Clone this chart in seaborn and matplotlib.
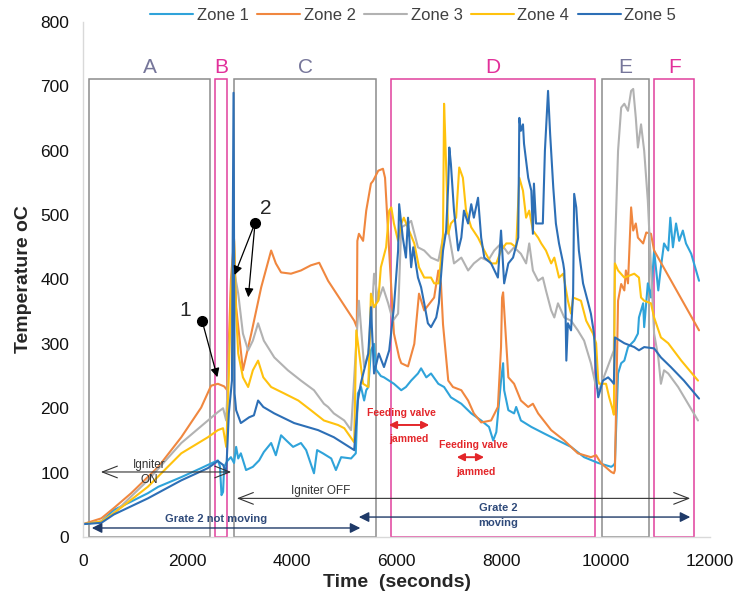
import pandas as pd
import seaborn as sns
import matplotlib.pyplot as plt
from matplotlib.patches import Rectangle

# Theme
sns.set_theme(style="white")
plt.rcParams['font.family'] = ['Liberation Sans', 'DejaVu Sans']

# ------------------ DATA ------------------
zone_names = ['Zone 1', 'Zone 2', 'Zone 3', 'Zone 4', 'Zone 5']
zone_colors = ['#2fa3da', '#f0873f', '#b2b2b2', '#ffc20e', '#2d6fb6']

t1 = [0, 350, 590, 920, 1240, 1440, 1880, 2260, 2390, 2580, 2620, 2650, 2680, 2700, 2760,
      2830, 2890, 2930, 2970, 3020, 3120, 3250, 3370, 3460, 3600, 3690, 3790, 3890, 4020, 4170,
      4270, 4420, 4480, 4590, 4750, 4840, 4940, 5130, 5220, 5260, 5320, 5380, 5420, 5460, 5510,
      5570, 5610, 5700, 5760, 5950, 6090, 6180, 6280, 6410, 6470, 6570, 6660, 6800, 6910, 7040,
      7240, 7430, 7620, 7770, 7850, 7910, 8000, 8040, 8060, 8140, 8250, 8290, 8380, 8580, 8820,
      9090, 9340, 9590, 9860, 10110, 10160, 10180, 10240, 10300, 10360, 10430, 10550, 10620, 10640, 10720,
      10740, 10810, 10870, 10930, 11010, 11060, 11120, 11200, 11240, 11290, 11350, 11410, 11480, 11540, 11640,
      11790]
v1 = [20, 24, 42, 55, 68, 78, 93, 107, 112, 119, 110, 65, 70, 109, 118,
      124, 115, 140, 122, 130, 104, 109, 119, 132, 146, 127, 158, 150, 140, 146,
      135, 99, 135, 130, 122, 104, 124, 122, 130, 223, 233, 212, 228, 233, 290,
      300, 260, 250, 248, 238, 228, 233, 243, 254, 262, 248, 254, 238, 233, 217,
      207, 192, 181, 171, 150, 163, 243, 270, 228, 197, 192, 202, 181, 171, 161,
      150, 140, 124, 115, 109, 112, 115, 254, 270, 274, 295, 305, 316, 341, 363,
      326, 394, 372, 445, 383, 419, 456, 445, 496, 450, 487, 460, 476, 456, 440,
      398]

t2 = [0, 350, 590, 920, 1440, 1880, 2260, 2450, 2580, 2700, 2760, 2790, 2830, 2890, 2930,
      3060, 3220, 3410, 3600, 3690, 3790, 3980, 4170, 4360, 4520, 4690, 4940, 5190, 5240, 5250,
      5280, 5360, 5420, 5510, 5550, 5650, 5740, 5780, 5840, 5950, 6050, 6090, 6220, 6340, 6430,
      6530, 6720, 6800, 6850, 6890, 6990, 7080, 7240, 7370, 7480, 7620, 7810, 7940, 8000, 8020,
      8040, 8140, 8250, 8380, 8520, 8610, 8710, 8960, 9210, 9470, 9720, 9820, 9910, 10110, 10160,
      10180, 10240, 10300, 10360, 10390, 10430, 10490, 10530, 10580, 10620, 10720, 10780, 10870, 10930, 11790]
v2 = [20, 29, 45, 68, 109, 155, 201, 235, 238, 234, 228, 300, 400, 463, 357,
      259, 316, 388, 445, 425, 411, 409, 414, 422, 426, 398, 367, 336, 326, 460,
      471, 460, 507, 549, 553, 569, 572, 558, 471, 316, 279, 270, 265, 300, 378,
      352, 372, 414, 394, 330, 243, 233, 228, 212, 192, 178, 181, 202, 295, 372,
      380, 248, 238, 212, 202, 207, 192, 166, 150, 130, 124, 127, 115, 101, 99,
      104, 367, 393, 383, 414, 394, 512, 476, 487, 465, 456, 473, 471, 445, 321]

t3 = [0, 350, 590, 1240, 1880, 2390, 2580, 2680, 2740, 2800, 2890, 2970, 3060, 3160, 3250,
      3350, 3460, 3660, 3920, 4170, 4420, 4610, 4690, 4800, 5000, 5130, 5240, 5280, 5380, 5460,
      5510, 5570, 5650, 5740, 5840, 5930, 6030, 6090, 6220, 6280, 6410, 6530, 6660, 6800, 6890,
      6990, 7100, 7240, 7370, 7480, 7620, 7750, 7870, 8000, 8140, 8250, 8380, 8480, 8540, 8610,
      8710, 8800, 8860, 8960, 9020, 9090, 9210, 9340, 9470, 9590, 9720, 9820, 9880, 9920, 10160,
      10180, 10240, 10300, 10360, 10430, 10490, 10530, 10580, 10620, 10680, 10740, 10810, 10870, 10930, 11010,
      11060, 11120, 11200, 11390, 11580, 11770]
v3 = [20, 24, 37, 88, 146, 181, 194, 200, 181, 300, 414, 378, 316, 290, 305,
      332, 305, 279, 259, 243, 228, 207, 202, 192, 181, 166, 316, 367, 264, 285,
      321, 409, 367, 388, 363, 336, 347, 481, 487, 491, 450, 445, 434, 429, 465,
      476, 425, 434, 414, 425, 434, 429, 445, 456, 440, 450, 440, 425, 456, 414,
      398, 403, 383, 352, 341, 363, 341, 336, 321, 305, 270, 233, 228, 238, 290,
      445, 600, 667, 673, 662, 693, 696, 651, 605, 641, 600, 522, 419, 316, 279,
      238, 259, 254, 233, 207, 181]

t4 = [0, 350, 590, 1240, 1880, 2390, 2580, 2680, 2740, 2790, 2830, 2890, 2930, 2970, 3060,
      3160, 3250, 3350, 3450, 3600, 3850, 4120, 4360, 4610, 4880, 5000, 5190, 5230, 5360, 5460,
      5510, 5570, 5650, 5700, 5800, 5860, 5900, 5950, 6030, 6090, 6140, 6240, 6340, 6430, 6530,
      6660, 6720, 6810, 6890, 6910, 6930, 6990, 7040, 7140, 7200, 7270, 7330, 7430, 7560, 7680,
      7810, 7910, 8000, 8100, 8190, 8290, 8350, 8420, 8480, 8540, 8610, 8710, 8770, 8860, 8960,
      9020, 9110, 9190, 9280, 9340, 9380, 9530, 9630, 9760, 9820, 9860, 9880, 10010, 10070, 10140,
      10160, 10180, 10240, 10360, 10550, 10640, 10680, 10740, 10870, 10930, 11060, 11200, 11450, 11770]
v4 = [20, 24, 37, 78, 130, 155, 166, 169, 140, 250, 380, 460, 347, 285, 248,
      233, 259, 274, 248, 233, 223, 212, 197, 181, 174, 169, 147, 321, 238, 233,
      378, 357, 367, 419, 450, 507, 512, 487, 460, 487, 496, 476, 456, 419, 403,
      403, 394, 394, 471, 673, 626, 471, 487, 496, 574, 558, 507, 481, 465, 445,
      425, 425, 445, 456, 456, 450, 558, 538, 496, 507, 476, 465, 456, 445, 425,
      434, 403, 409, 367, 347, 372, 367, 336, 316, 301, 243, 238, 238, 217, 197,
      190, 425, 414, 403, 409, 403, 372, 367, 363, 341, 310, 301, 274, 243]

t5 = [0, 350, 590, 1240, 1880, 2390, 2580, 2680, 2740, 2790, 2850, 2880, 2900, 2930, 3020,
      3180, 3270, 3350, 3450, 3660, 4040, 4500, 4800, 5190, 5260, 5320, 5460, 5510, 5570, 5660,
      5760, 5860, 5950, 6030, 6050, 6120, 6180, 6220, 6280, 6320, 6410, 6470, 6530, 6600, 6660,
      6760, 6810, 6890, 6950, 6990, 7010, 7040, 7100, 7180, 7240, 7290, 7370, 7430, 7480, 7560,
      7620, 7680, 7810, 7940, 8000, 8060, 8140, 8230, 8330, 8350, 8380, 8420, 8440, 8520, 8580,
      8610, 8630, 8670, 8730, 8800, 8840, 8900, 8940, 9000, 9050, 9110, 9190, 9210, 9230, 9250,
      9280, 9340, 9380, 9400, 9440, 9490, 9570, 9670, 9720, 9780, 9820, 9860, 9950, 10050, 10110,
      10160, 10180, 10360, 10550, 10640, 10740, 10930, 11060, 11250, 11500, 11790]
v5 = [20, 22, 35, 60, 88, 107, 118, 112, 100, 192, 243, 690, 223, 197, 177,
      186, 189, 212, 202, 192, 177, 166, 155, 135, 212, 240, 285, 357, 254, 285,
      264, 290, 357, 445, 517, 465, 434, 496, 419, 450, 403, 388, 363, 332, 326,
      341, 363, 445, 476, 549, 605, 580, 507, 445, 465, 507, 487, 517, 496, 527,
      465, 434, 425, 403, 476, 394, 425, 434, 465, 651, 631, 641, 611, 558, 538,
      471, 549, 487, 487, 487, 600, 693, 626, 543, 487, 456, 425, 414, 372, 274,
      332, 321, 378, 533, 512, 445, 394, 363, 347, 316, 248, 217, 243, 248, 243,
      238, 310, 301, 295, 290, 295, 293, 279, 264, 243, 215]

zone_t = [t1, t2, t3, t4, t5]
zone_v = [v1, v2, v3, v4, v5]

# operating phases
regions = ['A', 'B', 'C', 'D', 'E', 'F']
region_start = [115, 2525, 2890, 5900, 9930, 10930]
region_end = [2430, 2755, 5610, 9800, 10830, 11700]
region_top = 712

grey_box, pink_box = '#8c8c8c', '#e0409c'
grey_txt, pink_txt = '#76769a', '#e2309a'

# ------------------ FIGURE ------------------
fig = plt.figure(figsize=(7.35, 5.99), dpi=100)
ax = fig.add_axes([0.113, 0.1035, 0.853, 0.8598])

for name, tt, vv, col in zip(zone_names, zone_t, zone_v, zone_colors):
    df = pd.DataFrame({'Time': tt, 'Temp': vv})
    sns.lineplot(data=df, x='Time', y='Temp', ax=ax, color=col, lw=1.5,
                 label=name, sort=False, estimator=None)

# phase boxes
for i, r in enumerate(regions):
    pink = r in ('B', 'D', 'F')
    ax.add_patch(Rectangle((region_start[i], 0), region_end[i] - region_start[i], region_top,
                           fill=False, lw=1.1, ec=pink_box if pink else grey_box, zorder=1))
    ax.text((region_start[i] + region_end[i]) / 2, 729, r, ha='center', va='center',
            fontsize=15, color=pink_txt if pink else grey_txt)

# points 1 and 2
ax.plot([2278, 3292], [336, 488], 'o', color='black', ms=7, zorder=6)
ax.text(1952, 352, '1', fontsize=15, ha='center', va='center')
ax.text(3503, 510, '2', fontsize=15, ha='center', va='center')
arr = dict(arrowstyle='-|>', color='black', lw=0.9, mutation_scale=13)
ax.annotate('', xy=(2584, 244), xytext=(2278, 336), arrowprops=arr)
ax.annotate('', xy=(2880, 403), xytext=(3292, 488), arrowprops=arr)
ax.annotate('', xy=(3158, 368), xytext=(3292, 488), arrowprops=arr)

# igniter
open_arr = dict(arrowstyle='<->,head_length=0.9,head_width=0.35', color='#333333', lw=0.8, mutation_scale=12)
ax.annotate('', xy=(287, 101), xytext=(2890, 101), arrowprops=open_arr)
ax.text(1264, 112, 'Igniter', fontsize=8.5, ha='center', va='center', color='#333333')
ax.text(1264, 89, 'ON', fontsize=8.5, ha='center', va='center', color='#333333')
ax.annotate('', xy=(2890, 60), xytext=(11675, 60), arrowprops=open_arr)
ax.text(4555, 72, 'Igniter OFF', fontsize=8.5, ha='center', va='center', color='#333333')

# grate
navy = '#1f3a68'
grate_arr = dict(arrowstyle='<|-|>', color=navy, lw=1.0, mutation_scale=15)
ax.annotate('', xy=(115, 14), xytext=(5360, 14), arrowprops=grate_arr)
ax.text(2546, 28, 'Grate 2 not moving', fontsize=8, ha='center', va='center', color='#2f4a7a',
        fontweight='bold')
ax.annotate('', xy=(5225, 31), xytext=(11675, 31), arrowprops=grate_arr)
ax.text(7943, 33, 'Grate 2\nmoving', fontsize=8, ha='center', va='center', color='#2f4a7a',
        fontweight='bold', linespacing=1.6)

# feeding valve jammed
red = '#e3262a'
red_arr = dict(arrowstyle='<|-|>', color=red, lw=1.4, mutation_scale=11)
ax.annotate('', xy=(5800, 174), xytext=(6680, 174), arrowprops=red_arr)
ax.text(6087, 193, 'Feeding valve', fontsize=7.5, ha='center', va='center', color=red, fontweight='bold')
ax.text(6240, 153, 'jammed', fontsize=7.5, ha='center', va='center', color=red, fontweight='bold')
ax.annotate('', xy=(7100, 124), xytext=(7730, 124), arrowprops=red_arr)
ax.text(7465, 143, 'Feeding valve', fontsize=7.5, ha='center', va='center', color=red, fontweight='bold')
ax.text(7520, 101, 'jammed', fontsize=7.5, ha='center', va='center', color=red, fontweight='bold')

# axes styling
ax.set_xlim(0, 12000)
ax.set_ylim(0, 800)
ax.set_xticks(range(0, 12001, 2000))
ax.set_yticks(range(0, 801, 100))
ax.tick_params(axis='both', length=0, labelsize=12.5, colors='#111111')
ax.tick_params(axis='x', pad=12)
ax.tick_params(axis='y', pad=10)
for s in ['top', 'right']:
    ax.spines[s].set_visible(False)
for s in ['left', 'bottom']:
    ax.spines[s].set_color('#d9d9d9')
    ax.spines[s].set_linewidth(1.0)
ax.set_xlabel('Time  (seconds)', fontsize=14, fontweight='bold', labelpad=4)
ax.set_ylabel('Temperature oC', fontsize=14, fontweight='bold', labelpad=6)

handles, labels = ax.get_legend_handles_labels()
ax.get_legend().remove()
leg = fig.legend(handles, labels, loc='upper center', bbox_to_anchor=(0.562, 1.012), ncol=5,
                 frameon=False, fontsize=12, handlelength=2.6, columnspacing=0.5, handletextpad=0.2)
for txt in leg.get_texts():
    txt.set_color('#404040')

fig.savefig('out.png', dpi=100)
